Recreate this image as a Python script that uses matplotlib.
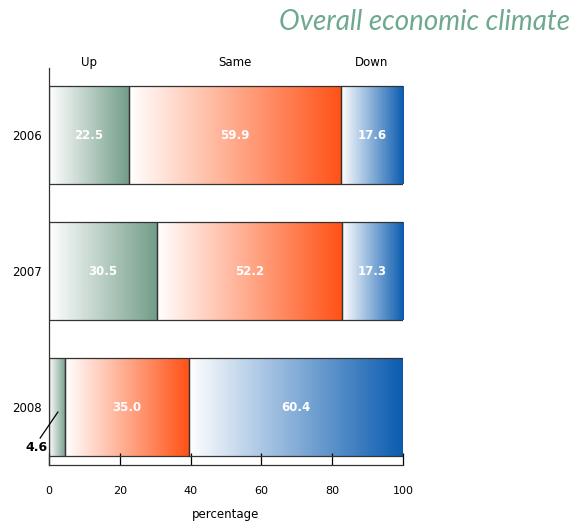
import numpy as np
import matplotlib.pyplot as plt
from matplotlib.colors import LinearSegmentedColormap

years = ['2006', '2007', '2008']
categories = ['Up', 'Same', 'Down']
up = [22.5, 30.5, 4.6]
same = [59.9, 52.2, 35.0]
down = [17.6, 17.3, 60.4]
seg_colors = ['#739d89', '#ff5216', '#0b5cb0']

fig = plt.figure(figsize=(5.87, 5.22), dpi=100)
ax = fig.add_axes([49 / 587, 1 - 465 / 522, 354 / 587, 397 / 522])

bar_h = 0.72
grad = np.linspace(0, 1, 256).reshape(1, -1)
series = [up, same, down]

for i, year in enumerate(years):
    left = 0.0
    for j, vals in enumerate(series):
        w = vals[i]
        cmap = LinearSegmentedColormap.from_list('g', ['#ffffff', seg_colors[j]])
        ax.imshow(grad, cmap=cmap, aspect='auto', interpolation='bilinear',
                  extent=(left, left + w, i + bar_h / 2, i - bar_h / 2), zorder=1)
        ax.barh(i, w, left=left, height=bar_h, facecolor='none',
                edgecolor='#333333', linewidth=0.9, zorder=2)
        if w > 10:
            ax.text(left + w / 2, i, f'{w:.1f}', color='white', fontsize=8.5,
                    fontweight='bold', ha='center', va='center', zorder=3)
        left += w

# small slice gets an outside label with a leader line
ax.plot([-2.5, 2.5], [2.228, 2.037], color='black', lw=0.9, clip_on=False, zorder=3)
ax.text(-3.4, 2.30, f'{up[2]:.1f}', fontsize=9, fontweight='bold',
        ha='center', va='center', clip_on=False)

# column headers above the first bar
centers = [up[0] / 2, up[0] + same[0] / 2, up[0] + same[0] + down[0] / 2]
for c, name in zip(centers, categories):
    ax.text(c, -0.537, name, fontsize=8.5, ha='center', va='center', clip_on=False)

ax.set_xlim(0, 100)
ax.set_ylim(2.426, -0.493)
ax.set_yticks(range(len(years)))
ax.set_yticklabels(years, fontsize=8.5)
ax.tick_params(axis='y', length=0, pad=5)
ax.set_xticks([0, 20, 40, 60, 80, 100])
ax.tick_params(axis='x', direction='in', length=9, width=0.9, labelsize=8, pad=15)
ax.set_xlabel('percentage', fontsize=8.5, labelpad=9)

for s in ['top', 'right']:
    ax.spines[s].set_visible(False)
for s in ['left', 'bottom']:
    ax.spines[s].set_linewidth(0.9)
    ax.spines[s].set_color('#333333')

fig.text(570 / 587, 1 - 22 / 522, 'Overall economic climate', fontsize=20,
         style='italic', family='Lato', color='#6ea98f', ha='right', va='center')

fig.savefig('out.png', dpi=100)
